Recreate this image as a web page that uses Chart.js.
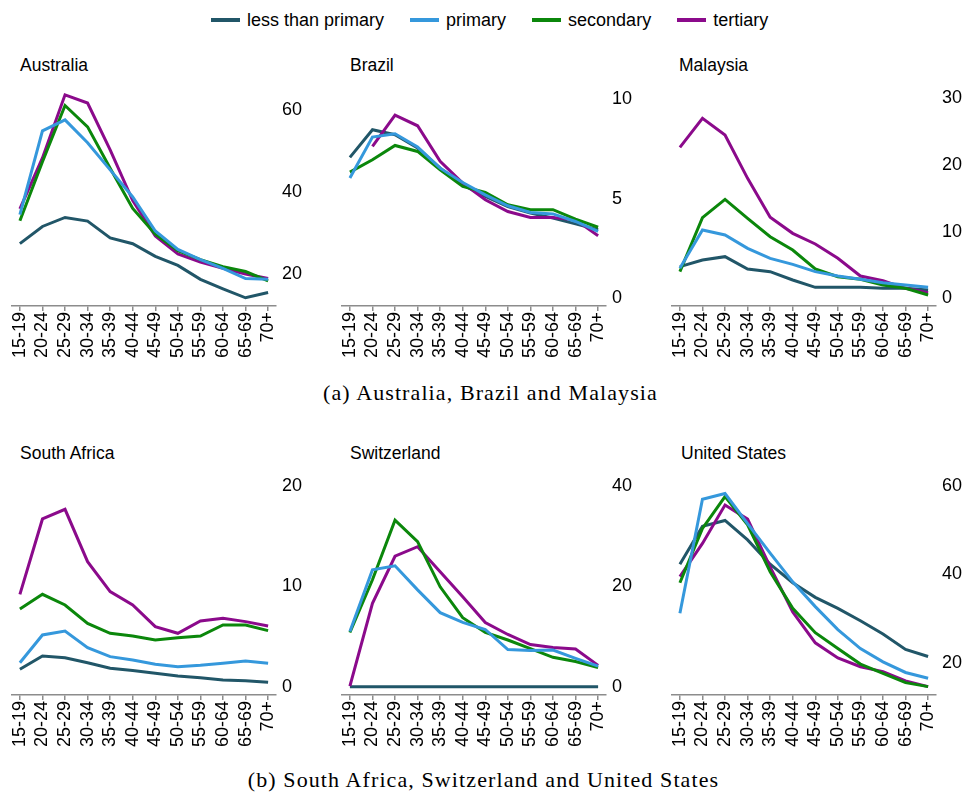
<!DOCTYPE html>
<html lang="en">
<head>
<meta charset="UTF-8">
<title>Age profiles by education</title>
<script src="https://cdn.jsdelivr.net/npm/chart.js"></script>
<style>
  body { margin: 0; background: #fff; width: 967px; height: 793px; position: relative; overflow: hidden;
         font-family: "Liberation Sans", Arial, sans-serif; color: #000; }
  .panel { position: absolute; }
  .ttl { position: absolute; font-size: 17.5px; line-height: 20px; }
  .cap { position: absolute; left: 0; width: 967px; text-align: center; font-family: "Liberation Serif", serif;
         font-size: 22px; line-height: 26px; letter-spacing: 1.1px; }
  #legend { position: absolute; left: 211px; top: 8px; height: 24px; display: flex; align-items: center; font-size: 18px; }
  #legend .item { display: flex; align-items: center; margin-right: 26px; }
  #legend .swatch { width: 29px; height: 3.5px; margin-right: 7px; }
</style>
</head>
<body>

<div id="legend"></div>

<div class="ttl" style="left:20px;top:55px">Australia</div>
<div class="ttl" style="left:350px;top:55px">Brazil</div>
<div class="ttl" style="left:679px;top:55px">Malaysia</div>
<div class="ttl" style="left:20px;top:443px">South Africa</div>
<div class="ttl" style="left:350px;top:443px">Switzerland</div>
<div class="ttl" style="left:681px;top:443px">United States</div>

<canvas class="panel" id="aus" width="330" height="326" style="left:0px;top:40px"></canvas>
<canvas class="panel" id="bra" width="330" height="326" style="left:330px;top:40px"></canvas>
<canvas class="panel" id="mys" width="330" height="326" style="left:660px;top:40px"></canvas>
<canvas class="panel" id="zaf" width="330" height="326" style="left:0px;top:429px"></canvas>
<canvas class="panel" id="che" width="330" height="326" style="left:330px;top:429px"></canvas>
<canvas class="panel" id="usa" width="330" height="326" style="left:660px;top:429px"></canvas>

<div class="cap" style="top:380px;left:7px">(a) Australia, Brazil and Malaysia</div>
<div class="cap" style="top:767px">(b) South Africa, Switzerland and United States</div>

<script>
// age groups on the x axis
const ageGroups = ['15-19','20-24','25-29','30-34','35-39','40-44','45-49','50-54','55-59','60-64','65-69','70+'];
const eduNames = ['less than primary','primary','secondary','tertiary'];
const eduColors = ['#215668','#3598dc','#0b870b','#8b0a8b'];

// Australia
const ausLess = [27.4,31.6,33.8,32.9,28.8,27.4,24.3,22.1,18.7,16.4,14.2,15.5];
const ausPrim = [34.5,54.9,57.6,52.0,45.4,38.8,30.5,26.0,23.5,21.4,18.9,18.7];
const ausSec  = [33.0,47.4,61.1,55.9,45.8,36.0,29.7,25.7,23.5,21.8,20.6,18.3];
const ausTert = [35.9,48.3,63.7,61.7,50.3,37.9,29.3,24.9,22.9,21.4,20.0,18.9];
const ausTicks = [20,40,60];

// Brazil (no tertiary value for 15-19)
const braLess = [7.08,8.47,8.22,7.55,6.54,5.70,5.12,4.61,4.28,4.03,3.74,3.44];
const braPrim = [6.04,8.10,8.27,7.60,6.54,5.82,5.20,4.65,4.31,4.24,3.86,3.36];
const braSec  = [6.34,6.96,7.68,7.38,6.46,5.62,5.32,4.70,4.45,4.45,3.98,3.57];
const braTert = [null,7.63,9.21,8.67,6.88,5.79,4.95,4.36,4.06,4.06,3.94,3.14];
const braTicks = [0,5,10];

// Malaysia
const mysLess = [4.75,5.75,6.25,4.4,4.0,2.75,1.65,1.65,1.65,1.5,1.5,1.25];
const mysPrim = [4.5,10.25,9.5,7.5,6.0,5.1,4.0,3.35,2.85,2.35,2.0,1.65];
const mysSec  = [4.0,12.1,14.85,12.0,9.25,7.25,4.4,3.25,2.85,2.0,1.5,0.5];
const mysTert = [22.65,27.0,24.5,18.0,12.15,9.75,8.15,6.0,3.35,2.65,1.5,0.85];
const mysTicks = [0,10,20,30];

// South Africa
const zafLess = [1.73,3.06,2.89,2.39,1.83,1.60,1.33,1.06,0.90,0.66,0.60,0.43];
const zafPrim = [2.39,5.15,5.55,3.89,2.99,2.66,2.23,1.99,2.13,2.33,2.56,2.33];
const zafSec  = [7.74,9.20,8.14,6.31,5.32,5.05,4.65,4.88,5.05,6.15,6.15,5.58];
const zafTert = [9.20,16.71,17.67,12.46,9.47,8.14,5.98,5.32,6.54,6.81,6.48,6.05];
const zafTicks = [0,10,20];

// Switzerland
const cheLess = [0,0,0,0,0,0,0,0,0,0,0,0];
const chePrim = [11.0,23.3,24.1,19.3,14.75,12.8,11.4,7.4,7.2,7.3,5.65,4.1];
const cheSec  = [10.8,21.3,33.2,28.9,19.9,13.75,10.8,9.3,7.6,5.85,5.0,3.8];
const cheTert = [0.1,16.6,26.0,27.9,22.9,17.9,12.8,10.4,8.4,7.8,7.5,4.25];
const cheTicks = [0,20,40];

// United States
const usaLess = [42.3,50.9,52.2,47.8,42.3,38.1,34.8,32.3,29.5,26.5,23.0,21.4];
const usaPrim = [31.2,57.0,58.3,51.5,44.8,38.3,32.7,27.5,23.2,20.2,17.8,16.5];
const usaSec  = [38.1,50.4,57.6,51.2,40.6,32.3,26.8,23.2,19.7,17.6,15.5,14.6];
const usaTert = [39.5,47.0,55.7,52.5,41.7,31.5,24.5,21.1,19.1,18.0,15.9,14.6];
const usaTicks = [20,40,60];

// legend shared by all panels
const legendBox = document.getElementById('legend');
eduNames.forEach((name, i) => {
  const item = document.createElement('div');
  item.className = 'item';
  item.innerHTML = '<span class="swatch" style="background:' + eduColors[i] + '"></span><span>' + name + '</span>';
  legendBox.appendChild(item);
});

function drawPanel(tag, series, yMin, yMax, yTicks) {
  const datasets = series.map((vals, i) => ({
    label: eduNames[i],
    data: vals.map((v, k) => ({ x: k, y: v })),
    borderColor: eduColors[i],
    backgroundColor: eduColors[i],
    borderWidth: 3,
    pointRadius: 0,
    tension: 0,
    spanGaps: false,
    order: i === 0 ? 4 : i   // dark line at the back
  }));

  new Chart(document.getElementById(tag), {
    type: 'line',
    data: { datasets: datasets },
    options: {
      responsive: false,
      animation: false,
      layout: { padding: { left: 12, top: 45, right: 0, bottom: 0 } },
      plugins: { legend: { display: false }, tooltip: { enabled: false } },
      scales: {
        x: {
          type: 'linear',
          min: -0.35,
          max: 11.35,
          afterBuildTicks: s => { s.ticks = ageGroups.map((_, k) => ({ value: k })); },
          afterFit: s => { s.height = 60; },
          ticks: {
            callback: v => ageGroups[v],
            minRotation: 90, maxRotation: 90, autoSkip: false,
            font: { family: 'Liberation Sans', size: 18 }, color: '#000', padding: 1
          },
          grid: { drawOnChartArea: false, drawTicks: true, tickLength: 5, color: '#8c8c8c', lineWidth: 1.5 },
          border: { display: true, color: '#8c8c8c', width: 1.5 }
        },
        y: {
          position: 'right',
          min: yMin,
          max: yMax,
          afterBuildTicks: s => { s.ticks = yTicks.map(v => ({ value: v })); },
          afterFit: s => { s.width = 54; },
          ticks: { font: { family: 'Liberation Sans', size: 18 }, color: '#000', padding: 6 },
          grid: { display: false, drawTicks: false },
          border: { display: false }
        }
      }
    }
  });
}

drawPanel('aus', [ausLess, ausPrim, ausSec, ausTert], 12.2, 66.1, ausTicks);
drawPanel('bra', [braLess, braPrim, braSec, braTert], -0.39, 10.72, braTicks);
drawPanel('mys', [mysLess, mysPrim, mysSec, mysTert], -1.15, 32.0, mysTicks);
drawPanel('zaf', [zafLess, zafPrim, zafSec, zafTert], -0.83, 21.19, zafTicks);
drawPanel('che', [cheLess, chePrim, cheSec, cheTert], -1.66, 42.39, cheTicks);
drawPanel('usa', [usaLess, usaPrim, usaSec, usaTert], 12.7, 62.71, usaTicks);
</script>
</body>
</html>
